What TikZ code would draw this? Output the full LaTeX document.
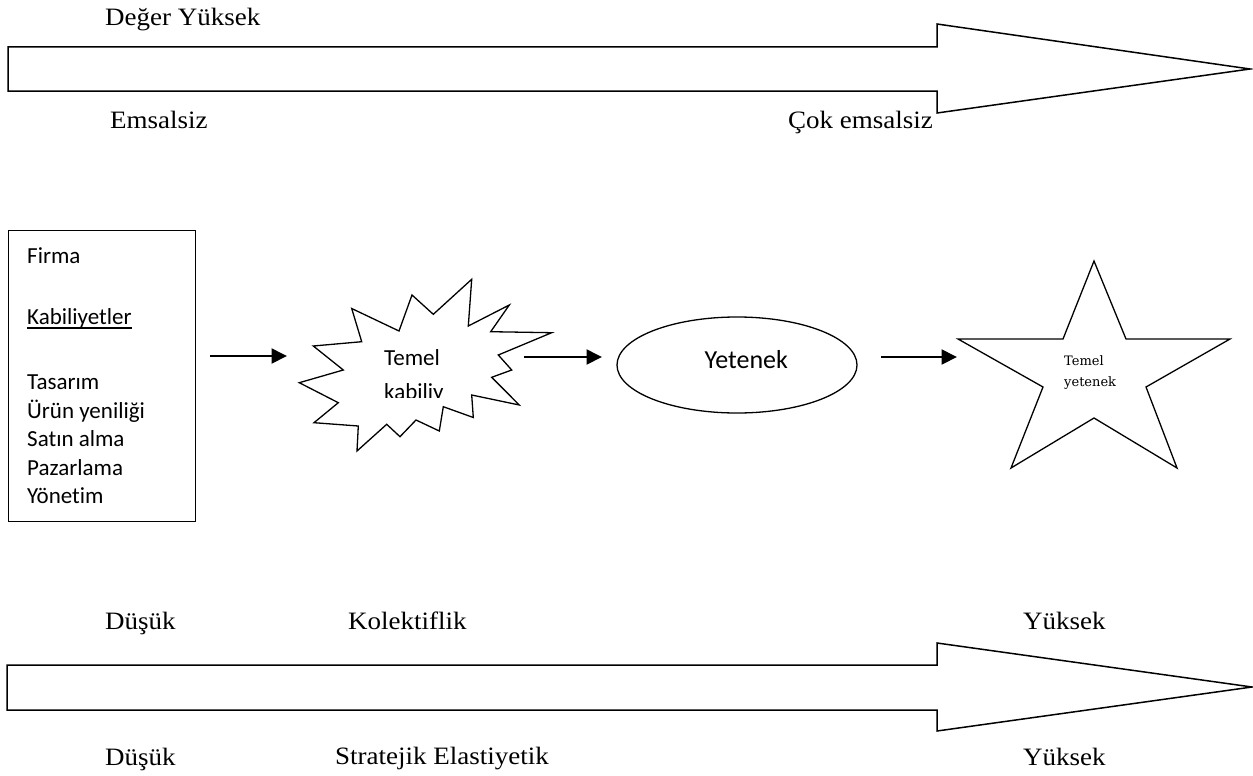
\documentclass[tikz,border=0pt]{standalone}
\usepackage{fontspec}
\setmainfont{Liberation Serif}[FakeStretch=1.08]
\newfontfamily\calib{Carlito}[Ligatures=NoCommon]
\newfontfamily\starfont{DejaVu Serif}
\usetikzlibrary{arrows.meta,shapes.geometric}

\begin{document}
\begin{tikzpicture}[x=1pt,y=-1pt,
  outline/.style={draw=black,line width=1.5pt,line join=miter},
  serlab/.style={anchor=base west,inner sep=0pt,font=\fontsize{25}{29}\selectfont},
  callab/.style={anchor=base west,inner sep=0pt,font=\calib\fontsize{23}{28}\selectfont},
  conn/.style={line width=2pt,-{Triangle[length=15.5pt,width=15pt]}}]
\useasboundingbox (0,0) rectangle (1253,776);

% upper scale: value / uniqueness
\draw[outline] (8,47) -- (937,47) -- (937,24) -- (1250,69) -- (937,113)
  -- (937,91) -- (8,91) -- cycle;
\node[serlab] (deger) at (105,26) {Değer Yüksek};
\node[serlab] (ems) at (110,128) {Emsalsiz};
\node[serlab] (cokems) at (788,128) {Çok emsalsiz};

% firm capabilities box
\node[draw,line width=1.3pt,anchor=north west,minimum width=187pt,
  minimum height=291pt,inner sep=0pt] (firm) at (8,230) {};
\node[callab] (firma) at (27,263.3) {Firma};
\node[callab] (kab) at (27,324) {Kabiliyetler};
\draw[line width=1.1pt] ([yshift=-4pt]kab.base west) -- ([yshift=-4pt]kab.base east);
\node[callab] (tas) at (27,389.5) {Tasarım};
\node[callab] (urun) at (27,418) {Ürün yeniliği};
\node[callab] (satin) at (27,446.5) {Satın alma};
\node[callab] (paz) at (27,475) {Pazarlama};
\node[callab] (yon) at (27,503.5) {Yönetim};

% core capability burst
\draw[outline,line width=1.3pt] (471.7,279.3) -- (468.3,326) -- (509.3,305) -- (490.7,331.7)
  -- (551.7,332.7) -- (498.3,355) -- (511.7,370) -- (491.7,377.3)
  -- (519.3,405) -- (471.7,395) -- (473.3,417.5) -- (443.3,406.7)
  -- (439.3,431) -- (416,420) -- (400,436.7) -- (386.7,424.3)
  -- (357,451) -- (358.3,426) -- (314,422.7) -- (338.3,402.7)
  -- (299.3,382.7) -- (343.3,370) -- (313.3,346) -- (361.7,341.7)
  -- (351.7,308.5) -- (399,331) -- (412,295) -- (433.3,314.3) -- cycle;
\node[callab] (burst1) at (384,365) {Temel};
\begin{scope}
  \clip (370,370) rectangle (460,397.5);
  \node[callab] (burst2) at (384,399) {kabiliy};
\end{scope}

% ability ellipse
\node[draw,ellipse,line width=1.3pt,minimum width=240pt,minimum height=96pt,
  inner sep=0pt] (yet) at (737,365) {};
\node[anchor=base west,inner sep=0pt,font=\calib\fontsize{26}{30}\selectfont]
  (yettxt) at (704.3,368.4) {Yetenek};

% core competence star
\draw[outline,line width=1.3pt] (1094,261) -- (1126,339) -- (1230,339) -- (1146,387)
  -- (1177,468) -- (1094,418) -- (1011,468) -- (1043,387) -- (958,339)
  -- (1063,339) -- cycle;
\node[anchor=base west,inner sep=0pt,font=\starfont\fontsize{13}{16}\selectfont]
  (star1) at (1064,365) {Temel};
\node[anchor=base west,inner sep=0pt,font=\starfont\fontsize{13}{16}\selectfont]
  (star2) at (1064,386) {yetenek};

% connector ports
\coordinate (firm-out) at (210,356);
\coordinate (burst-in) at (287,356);
\coordinate (burst-out) at (524,357);
\coordinate (yet-in) at (602,357);
\coordinate (yet-out) at (881,357);
\coordinate (star-in) at (957,357);
\draw[conn] (firm-out) -- (burst-in);
\draw[conn] (burst-out) -- (yet-in);
\draw[conn] (yet-out) -- (star-in);

% lower scale: collectivity / strategic elasticity
\draw[outline] (7,665) -- (937,665) -- (937,643) -- (1252,687) -- (937,731)
  -- (937,710) -- (7,710) -- cycle;
\node[serlab] (dus1) at (105,629) {Düşük};
\node[serlab] (kol) at (348,629) {Kolektiflik};
\node[serlab] (yuk1) at (1023,629) {Yüksek};
\node[serlab] (dus2) at (105,765) {Düşük};
\node[serlab] (strat) at (335,764) {Stratejik Elastiyetik};
\node[serlab] (yuk2) at (1023,765) {Yüksek};
\end{tikzpicture}
\end{document}
